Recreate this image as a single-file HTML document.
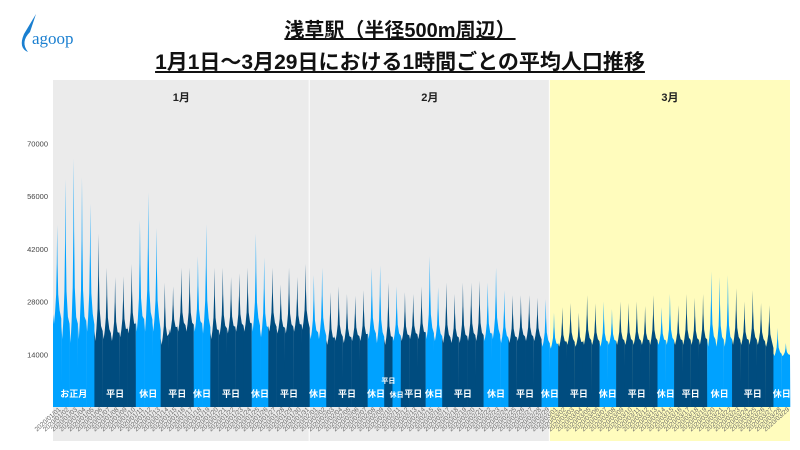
<!DOCTYPE html>
<html><head><meta charset="utf-8">
<style>
body{margin:0;background:#fff;width:800px;height:450px;overflow:hidden;font-family:"Liberation Sans","Noto Sans CJK JP",sans-serif;}
.t{position:absolute;left:0;width:800px;text-align:center;font-weight:bold;text-decoration:underline;color:#111;}
</style></head><body>
<div class="t" style="top:14px;font-size:20px;">浅草駅（半径500m周辺）</div>
<div class="t" style="top:46px;font-size:21px;">1月1日～3月29日における1時間ごとの平均人口推移</div>
<div style="position:absolute;left:8px;top:12px;width:70px;height:40px;">
<svg width="70" height="40"><path d="M28 2 L16 22 Q10 36 20 40 Q12 30 22 20 Z" fill="#1a7fd0"/><text x="24" y="32" font-family="Liberation Serif,serif" font-size="17" fill="#1a7fd0">agoop</text></svg></div>
<svg id="chart" width="800" height="450" style="position:absolute;left:0;top:0"></svg>
<script>
const dayTypes=[ // H=holiday, W=weekday
"H","H","H","H","H","W","W","W","W","W","H","H","H","W","W","W","W","H","H","W","W","W","W","W","H","H","W","W","W","W","W",
"H","H","W","W","W","W","W","H","H","W","H","W","W","W","H","H","W","W","W","W","W","H","H","H","W","W","W","W","H",
"H","W","W","W","W","W","H","H","W","W","W","W","W","H","H","W","W","W","W","H","H","H","W","W","W","W","W","H","H"];
const dayPeaks=[48300,60500,66000,61000,54000,46000,37000,34500,34700,38000,49600,57000,47500,33000,32000,37000,37000,40000,48500,37000,37000,34500,35500,37000,46000,39700,37000,32500,37000,34500,38000,
35000,37000,30500,32000,30000,29500,31000,37000,37600,33000,32000,30500,30000,32000,40000,31800,33000,30000,33000,33000,33500,33000,37000,31000,29700,29700,29700,29000,28600,
25000,26500,27600,25000,29700,27500,28000,26000,28000,27600,28000,26800,29700,26500,30000,27000,30000,29000,30000,36000,34500,35000,31500,28000,31000,27600,27000,21000,17000];
const dayLows=[22000,18000,17000,18000,20000,17500,18000,17500,18500,19500,20000,20000,20000,16500,19500,20000,20000,20000,19500,18000,19000,19500,20000,20000,20000,18500,20000,19500,19500,20000,20500,
18000,18000,16500,17500,17000,17500,17500,18000,17000,16500,17500,17500,18000,18000,18000,17500,17000,17000,17000,17500,17500,17500,18000,17000,17000,17500,17500,17500,16000,
15500,16000,16500,16000,16500,16500,16000,16500,16500,16500,16500,16500,16500,16500,16500,16500,16500,16500,16500,16000,16000,16000,16500,16500,16500,16500,16000,13500,13500];
const yTicks=[14000,28000,42000,56000,70000];
const months=["1月","2月","3月"];
const monthDays=[31,29,29];
const segLabels=[["お正月",0,5],["平日",5,10],["休日",10,13],["平日",13,17],["休日",17,19],["平日",19,24],["休日",24,26],["平日",26,31],
["休日",31,33],["平日",33,38],["休日",38,40],["平日",40,41],["休日",41,42],["平日",42,45],["休日",45,47],["平日",47,52],["休日",52,55],["平日",55,59],["休日",59,61],
["平日",61,66],["休日",66,68],["平日",68,73],["休日",73,75],["平日",75,79],["休日",79,82],["平日",82,87],["休日",87,89]];

const NS="http://www.w3.org/2000/svg";
const svg=document.getElementById('chart');
const X0=53,X1=790,Y0=407,PPU=211/56000;
const nDays=dayPeaks.length;
const dw=(X1-X0)/nDays;
const xs=d=>X0+d*dw;
const ys=v=>Y0-v*PPU;
function mk(tag,attrs,parent){const e=document.createElementNS(NS,tag);for(const k in attrs)e.setAttribute(k,attrs[k]);(parent||svg).appendChild(e);return e;}
let acc=0;
months.forEach((m,i)=>{
 const r=mk('rect',{x:xs(acc),y:80,width:monthDays[i]*dw,height:361,fill:i==2?'#fffcbd':'#ebebeb'});
 
 
 const t=mk('text',{x:xs(acc+monthDays[i]/2),y:101,'font-size':11,'font-weight':'bold','text-anchor':'middle',fill:'#222'});
 t.textContent=m;
 
 
 acc+=monthDays[i];
 if(i<2){const l=mk('line',{x1:xs(acc),x2:xs(acc),y1:80,y2:441,stroke:'#fff','stroke-width':2});
 
 }
});
yTicks.forEach(v=>{const t=mk('text',{x:48,y:ys(v)+3,'font-size':7.5,'text-anchor':'end',fill:'#444'});t.textContent=v;
 
 });
for(let d=0;d<nDays;d++){
 const lo=dayLows[d],pk=dayPeaks[d],df=pk-lo;
 const nx=d<nDays-1?dayLows[d+1]+(dayPeaks[d+1]-dayLows[d+1])*0.1:lo+df*0.1;
 const st=lo+df*0.1;
 const prof=[[0,st],[0.12,lo],[0.25,lo+df*0.12],[0.38,lo+df*0.3],[0.46,lo+df*0.62],[0.5,pk],[0.55,lo+df*0.6],[0.63,lo+df*0.3],[0.8,lo+df*0.14],[1,(lo+df*0.1+nx)/2]];
 let p='M'+xs(d)+','+Y0;
 prof.forEach(([f,v])=>{p+=' L'+(xs(d+f)).toFixed(2)+','+ys(v).toFixed(2);});
 p+=' L'+(xs(d+1)+0.3).toFixed(2)+','+Y0+' Z';
 const a=mk('path',{d:p,fill:dayTypes[d]=='H'?'#00a2ff':'#004c7f'});
 
 
 const dt=new Date(Date.UTC(2020,0,1+d));
 const s='2020/'+String(dt.getUTCMonth()+1).padStart(2,'0')+'/'+String(dt.getUTCDate()).padStart(2,'0');
 const cx=xs(d+0.5);
 const t=mk('text',{x:cx+4,y:410,'font-size':6.5,'text-anchor':'end',fill:'#666',transform:'rotate(-42 '+(cx+4)+' 410)'});
 t.textContent=s;
 
 
}
segLabels.forEach(([s,a,b])=>{
 const small=(b-a)<2;
 const raised=(s=="平日"&&small);
 const t=mk('text',{x:xs((a+b)/2),y:raised?383:397,'font-size':small?7:9,'font-weight':'bold','text-anchor':'middle',fill:'#fff'});
 t.textContent=s;
 
 
});
</script>
</body></html>
